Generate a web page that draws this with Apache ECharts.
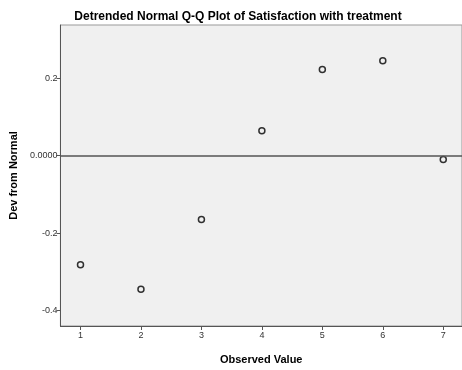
<!DOCTYPE html>
<html>
<head>
<meta charset="utf-8">
<script src="https://cdn.jsdelivr.net/npm/echarts@6/dist/echarts.min.js"></script>
<style>
  html, body { margin: 0; padding: 0; background: #fff; }
  #chart { width: 462px; height: 370px; }
</style>
</head>
<body>
<div id="chart"></div>
<script>
// observed values and their deviation from normal
const observed = [1, 2, 3, 4, 5, 6, 7];
const devFromNormal = [-0.282, -0.345, -0.165, 0.064, 0.222, 0.245, -0.010];
const xTicks = [1, 2, 3, 4, 5, 6, 7];
const yTicks = [-0.4, -0.2, 0, 0.2];

const chart = echarts.init(document.getElementById('chart'));

const points = observed.map((x, i) => [x, devFromNormal[i]]);

const option = {
  animation: false,
  title: {
    text: 'Detrended Normal Q-Q Plot of Satisfaction with treatment',
    left: 233,
    textAlign: 'center',
    top: 6,
    textStyle: {
      fontFamily: 'Liberation Sans, Arial, sans-serif',
      fontSize: 12,
      fontWeight: 'bold',
      color: '#000'
    }
  },
  grid: {
    left: 58,
    top: 25,
    right: 0,
    bottom: 40,
    show: true,
    backgroundColor: '#f0f0f0',
    borderColor: '#999',
    borderWidth: 1
  },
  xAxis: {
    type: 'value',
    min: 0.668,
    max: 7.31,
    name: 'Observed Value',
    nameLocation: 'middle',
    nameGap: 28,
    nameTextStyle: {
      fontFamily: 'Liberation Sans, Arial, sans-serif',
      fontSize: 11,
      fontWeight: 'bold',
      color: '#000'
    },
    splitLine: { show: false },
    axisLine: { show: true, onZero: false, lineStyle: { color: '#555', width: 1 } },
    axisTick: {
      show: true,
      length: 4,
      customValues: xTicks,
      lineStyle: { color: '#555' }
    },
    axisLabel: {
      customValues: xTicks,
      fontFamily: 'Liberation Sans, Arial, sans-serif',
      fontSize: 9,
      color: '#333',
      margin: 5
    }
  },
  yAxis: {
    type: 'value',
    min: -0.44,
    max: 0.337,
    name: 'Dev from Normal',
    nameLocation: 'middle',
    nameGap: 41,
    nameTextStyle: {
      fontFamily: 'Liberation Sans, Arial, sans-serif',
      fontSize: 11,
      fontWeight: 'bold',
      color: '#000'
    },
    splitLine: { show: false },
    axisLine: { show: true, onZero: false, lineStyle: { color: '#555', width: 1 } },
    axisTick: {
      show: true,
      length: 4,
      customValues: yTicks,
      lineStyle: { color: '#555' }
    },
    axisLabel: {
      customValues: yTicks,
      fontFamily: 'Liberation Sans, Arial, sans-serif',
      fontSize: 9,
      color: '#333',
      margin: 3,
      formatter: v => (Math.abs(v) < 1e-9 ? '0.0000' : v.toFixed(1))
    }
  },
  series: [
    {
      type: 'scatter',
      data: points,
      symbol: 'circle',
      symbolSize: 6,
      itemStyle: {
        color: 'rgba(0,0,0,0)',
        borderColor: '#000',
        borderWidth: 1.5
      },
      markLine: {
        silent: true,
        symbol: ['none', 'none'],
        label: { show: false },
        lineStyle: { color: '#555', width: 1.5, type: 'solid' },
        data: [{ yAxis: 0 }]
      }
    }
  ]
};

chart.setOption(option);
</script>
</body>
</html>
